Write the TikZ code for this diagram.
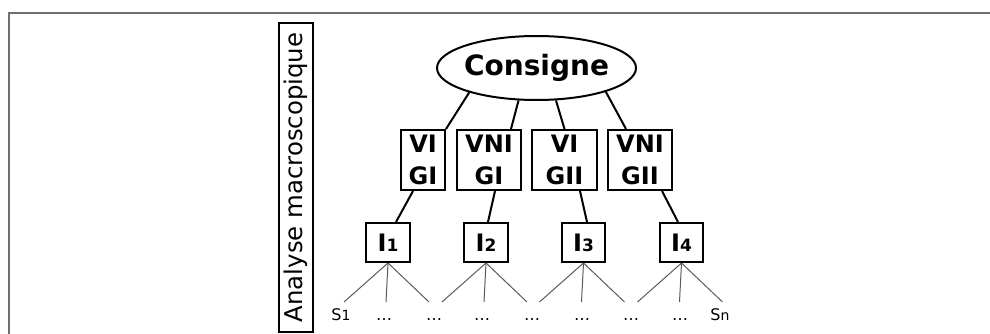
\documentclass[tikz,border=0pt]{standalone}
\usepackage{fontspec}
\setmainfont{DejaVu Sans}
\usetikzlibrary{shapes.geometric,calc}
\definecolor{framegray}{HTML}{6F6F6F}
\definecolor{fangray}{HTML}{5A5A5A}
\tikzset{
  boxline/.style={draw=black, line width=2pt},
  vbox/.style={boxline, rectangle, inner sep=0pt, minimum height=60pt, align=center,
    font=\fontsize{24}{32}\selectfont\bfseries},
  ibox/.style={boxline, rectangle, inner sep=0pt, minimum height=39pt,
    font=\fontsize{24}{28}\selectfont\bfseries},
  link/.style={draw=black, line width=2pt},
  fan/.style={draw=fangray, line width=1pt},
  leaf/.style={anchor=base, inner sep=0pt, font=\fontsize{16}{18}\selectfont},
}
\newcommand{\smallsub}[1]{{\fontsize{17}{19}\selectfont\bfseries #1}}
\newcommand{\leafsub}[1]{{\fontsize{14}{16}\selectfont #1}}
\begin{document}
\begin{tikzpicture}[x=1pt, y=-1pt]
\useasboundingbox (0,0) rectangle (990,334);
% frame
\draw[framegray, line width=2pt] (8.5,334) -- (8.5,13) -- (990,13);
% side label
\node[boxline, rotate=90, inner sep=0pt, minimum width=309pt, minimum height=34pt,
  font=\fontsize{24.4}{28}\selectfont] (lab) at (296,177.5) {Analyse macroscopique};
% root
\node[boxline, ellipse, inner sep=0pt, minimum width=199pt, minimum height=64pt,
  font=\fontsize{28}{32}\selectfont\bfseries] (c) at (536.5,68) {\makebox[0pt]{Consigne}};
% second level
\node[vbox, minimum width=44pt] (b1) at (423,160) {VI\\GI};
\node[vbox, minimum width=64pt] (b2) at (489,160) {VNI\\GI};
\node[vbox, minimum width=65pt] (b3) at (564.5,160) {VI\\GII};
\node[vbox, minimum width=64pt] (b4) at (640,160) {VNI\\GII};
% third level
\node[ibox, minimum width=44pt] (i1) at (388,242.5) {I\smallsub{1}};
\node[ibox, minimum width=44pt] (i2) at (486,242.5) {I\smallsub{2}};
\node[ibox, minimum width=43pt] (i3) at (583.5,242.5) {I\smallsub{3}};
\node[ibox, minimum width=43pt] (i4) at (681.5,242.5) {I\smallsub{4}};
% root links
\draw[link] (c.200) -- (b1.north east);
\draw[link] (c.241) -- ([xshift=22pt]b2.north);
\draw[link] (c.301) -- (b3.north);
\draw[link] (c.341) -- ([xshift=-14pt]b4.north);
% second links
\draw[link] ([xshift=-10pt]b1.south) -- ([xshift=8pt]i1.north);
\draw[link] ([xshift=6pt]b2.south) -- ([xshift=2pt]i2.north);
\draw[link] ([xshift=15.5pt]b3.south) -- ([xshift=3.5pt]i3.north);
\draw[link] ([xshift=22pt]b4.south) -- ([xshift=-3.5pt]i4.north);
% fan ends
\foreach \n/\x in {1/388, 2/486, 3/583.5, 4/681.5}{
  \coordinate (f\n l) at (\x-44,302);
  \coordinate (f\n m) at (\x-2,302);
  \coordinate (f\n r) at (\x+41,302);
  \draw[fan] (i\n.south) -- (f\n l);
  \draw[fan] (i\n.south) -- (f\n m);
  \draw[fan] (i\n.south) -- (f\n r);
}
% leaves
\node[leaf] (s1) at (341,320) {S\leafsub{1}};
\node[leaf] (d1) at (384,320) {\dots};
\node[leaf] (d2) at (434,320) {\dots};
\node[leaf] (d3) at (482,320) {\dots};
\node[leaf] (d4) at (532,320) {\dots};
\node[leaf] (d5) at (582,320) {\dots};
\node[leaf] (d6) at (631,320) {\dots};
\node[leaf] (d7) at (680,320) {\dots};
\node[leaf] (sn) at (720,320) {S\leafsub{n}};
\end{tikzpicture}
\end{document}
